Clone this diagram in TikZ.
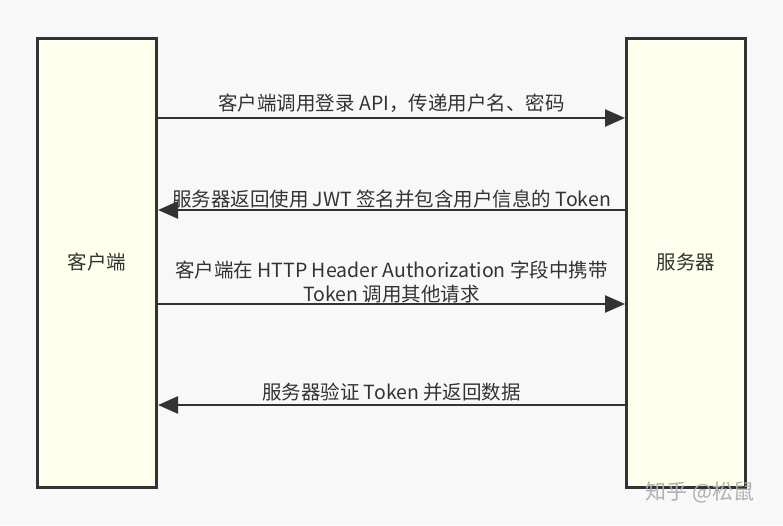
\documentclass[tikz,border=0pt]{standalone}
\usepackage{fontspec}
\setmainfont{Noto Sans CJK SC}
\usetikzlibrary{arrows.meta}
\definecolor{bg}{HTML}{F8F8F8}
\definecolor{boxfill}{HTML}{FFFFEE}
\definecolor{ink}{HTML}{333333}
\definecolor{wm}{HTML}{B0B0B0}
\begin{document}
\begin{tikzpicture}[x=1pt,y=-1pt,
  actor/.style={draw=ink, line width=3pt, fill=boxfill, minimum width=119pt, minimum height=449pt, inner sep=0pt, font=\fontsize{19.5}{23}\selectfont, text=ink},
  msg/.style={draw=ink, line width=2.5pt, -{Triangle[length=20pt,width=17pt]}},
  lbl/.style={font=\fontsize{19.5}{24}\selectfont, text=ink, align=center, inner sep=0pt}]
\fill[bg] (0,0) rectangle (783,525);
\useasboundingbox (0,0) rectangle (783,525);
\node[actor] (client) at (97,262.5) {客户端};
\node[actor] (server) at (686,262.5) {服务器};
\coordinate (y1) at (0,118);
\coordinate (y2) at (0,210);
\coordinate (y3) at (0,304);
\coordinate (y4) at (0,405);
\draw[msg] (client.east |- y1) -- node[lbl, above=4pt] {客户端调用登录 API，传递用户名、密码} (server.west |- y1);
\draw[msg] (server.west |- y2) -- node[lbl, above=1pt] {服务器返回使用 JWT 签名并包含用户信息的 Token} (client.east |- y2);
\draw[msg] (client.east |- y3) -- node[lbl, above=0pt] {客户端在 HTTP Header Authorization 字段中携带\\Token 调用其他请求} (server.west |- y3);
\draw[msg] (server.west |- y4) -- node[lbl, above=3pt] {服务器验证 Token 并返回数据} (client.east |- y4);
\node[text=wm, font=\fontsize{21}{25}\selectfont] (mark) at (700,492) {知乎 @松鼠};
\end{tikzpicture}
\end{document}
